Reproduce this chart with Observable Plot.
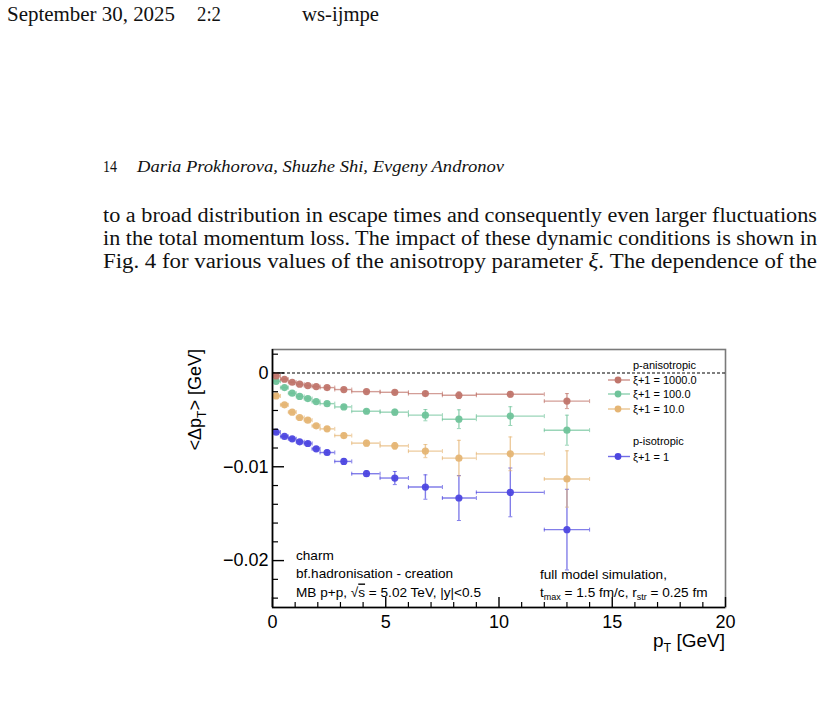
<!DOCTYPE html>
<html><head><meta charset="utf-8">
<script src="https://cdn.jsdelivr.net/npm/d3@7"></script>
<script src="https://cdn.jsdelivr.net/npm/@observablehq/plot@0.6"></script>
<style>
html,body{margin:0;padding:0;background:#fff;}
#page{position:relative;width:825px;height:708px;overflow:hidden;background:#fff;}
#text{position:absolute;left:0;top:0;}
#chart{position:absolute;left:160px;top:330px;}
</style></head><body>
<div id="page"><svg id="text" width="825" height="708"></svg><div id="chart"></div></div>
<script>
// ---- data ----
const ptMean  = [0.16, 0.53, 0.87, 1.20, 1.56, 1.93, 2.41, 3.15, 4.15, 5.40, 6.75, 8.23, 10.50, 13.00];
const binLow  = [0.00, 0.35, 0.70, 1.05, 1.40, 1.75, 2.10, 2.75, 3.50, 4.75, 6.00, 7.50, 9.00, 12.00];
const binHigh = [0.35, 0.70, 1.05, 1.40, 1.75, 2.10, 2.75, 3.50, 4.75, 6.00, 7.50, 9.00, 12.00, 14.00];

const seriesNames = ["ξ+1 = 1000.0", "ξ+1 = 100.0", "ξ+1 = 10.0", "ξ+1 = 1"];
const seriesGroups = ["p-anisotropic", "p-anisotropic", "p-anisotropic", "p-isotropic"];
const seriesColors = ["#c0756b", "#6fc39a", "#e5b574", "#4d47e0"];

const xi1000 = [-0.00032, -0.00067, -0.00099, -0.00120, -0.00135, -0.00145, -0.00156, -0.00177, -0.00199, -0.00206, -0.00220, -0.00238, -0.00227, -0.00300];
const xi100  = [-0.00089, -0.00156, -0.00216, -0.00250, -0.00273, -0.00305, -0.00327, -0.00362, -0.00408, -0.00418, -0.00450, -0.00493, -0.00460, -0.00610];
const xi10   = [-0.00245, -0.00340, -0.00418, -0.00475, -0.00503, -0.00564, -0.00596, -0.00667, -0.00748, -0.00777, -0.00833, -0.00908, -0.00862, -0.01130];
const xi1    = [-0.00631, -0.00677, -0.00702, -0.00734, -0.00752, -0.00809, -0.00848, -0.00943, -0.01074, -0.01120, -0.01216, -0.01333, -0.01273, -0.01670];

const err1000 = [0.00005, 0.00005, 0.00005, 0.00005, 0.00005, 0.00005, 0.00008, 0.00010, 0.00010, 0.00015, 0.00020, 0.00035, 0.00030, 0.00080];
const err100  = [0.00005, 0.00005, 0.00005, 0.00005, 0.00008, 0.00008, 0.00010, 0.00015, 0.00020, 0.00030, 0.00060, 0.00100, 0.00100, 0.00160];
const err10   = [0.00008, 0.00008, 0.00010, 0.00010, 0.00012, 0.00015, 0.00020, 0.00025, 0.00030, 0.00035, 0.00070, 0.00190, 0.00180, 0.00300];
const err1    = [0.00010, 0.00010, 0.00012, 0.00015, 0.00015, 0.00020, 0.00025, 0.00030, 0.00030, 0.00070, 0.00130, 0.00240, 0.00260, 0.00430];

const seriesValues = [xi1000, xi100, xi10, xi1];
const seriesErrors = [err1000, err100, err10, err1];

const xMajor = [0, 5, 10, 15, 20];
const xMinor = [1, 2, 3, 4, 6, 7, 8, 9, 11, 12, 13, 14, 16, 17, 18, 19];
const yMajor = [0, -0.01, -0.02];
const yMinor = [0.002, -0.002, -0.004, -0.006, -0.008, -0.012, -0.014, -0.016, -0.018, -0.022, -0.024];

const xDomain = [0, 20];
const yDomain = [-0.025, 0.0025];

// ---- page text ----
const T = d3.select("#text");
const serif = "'Liberation Serif','DejaVu Serif',serif";
function line(x, y, str, len, size, italic) {
  T.append("text").attr("x", x).attr("y", y).attr("font-family", serif)
    .attr("font-size", size).attr("font-style", italic ? "italic" : null)
    .attr("textLength", len).attr("lengthAdjust", "spacingAndGlyphs").attr("fill", "#111").text(str);
}
line(7, 21, "September 30, 2025", 168, 20);
line(197, 21, "2:2", 24, 20);
line(302, 21, "ws-ijmpe", 77, 20);
line(103, 172, "14", 14, 16);
line(137, 172, "Daria Prokhorova, Shuzhe Shi, Evgeny Andronov", 367, 16, true);
line(103, 222, "to a broad distribution in escape times and consequently even larger fluctuations", 714, 20);
line(103, 245, "in the total momentum loss. The impact of these dynamic conditions is shown in", 714, 20);
{
  const t = T.append("text").attr("x", 103).attr("y", 268).attr("font-family", serif).attr("font-size", 20)
    .attr("textLength", 714).attr("lengthAdjust", "spacingAndGlyphs").attr("fill", "#111");
  t.append("tspan").text("Fig. 4 for various values of the anisotropy parameter ");
  t.append("tspan").attr("font-style", "italic").text("ξ");
  t.append("tspan").text(". The dependence of the");
}

// ---- chart ----
const W = 600, H = 340, mL = 112, mR = 35, mT = 19, mB = 63;
const FW = W - mL - mR, FH = H - mT - mB;
const sans = "'Liberation Sans', Arial, Helvetica, sans-serif";

const vCap = {draw(ctx, size) { const r = Math.sqrt(size / Math.PI); ctx.moveTo(0, -r); ctx.lineTo(0, r); }};
const hCap = {draw(ctx, size) { const r = Math.sqrt(size / Math.PI); ctx.moveTo(-r, 0); ctx.lineTo(r, 0); }};

const rows = seriesNames.map((name, s) => ptMean.map((p, i) => ({
  series: name, pt: p, lo: binLow[i], hi: binHigh[i],
  v: seriesValues[s][i], e: seriesErrors[s][i],
  v1: seriesValues[s][i] - seriesErrors[s][i], v2: seriesValues[s][i] + seriesErrors[s][i]
})));

const dataMarks = [];
for (const s of [3, 2, 1, 0]) {
  const d = rows[s], c = seriesColors[s];
  dataMarks.push(
    Plot.ruleY(d, {x1: "lo", x2: "hi", y: "v", stroke: c, strokeOpacity: 0.7, strokeWidth: 1.4}),
    Plot.ruleX(d, {x: "pt", y1: "v1", y2: "v2", stroke: c, strokeOpacity: 0.7, strokeWidth: 1.4}),
    Plot.dot(d, {x: "lo", y: "v", symbol: vCap, r: 2, stroke: c, strokeOpacity: 0.7, fill: "none", strokeWidth: 1}),
    Plot.dot(d, {x: "hi", y: "v", symbol: vCap, r: 2, stroke: c, strokeOpacity: 0.7, fill: "none", strokeWidth: 1}),
    Plot.dot(d, {x: "pt", y: "v1", symbol: hCap, r: 2, stroke: c, strokeOpacity: 0.7, fill: "none", strokeWidth: 1}),
    Plot.dot(d, {x: "pt", y: "v2", symbol: hCap, r: 2, stroke: c, strokeOpacity: 0.7, fill: "none", strokeWidth: 1}),
    Plot.dot(d, {x: "pt", y: "v", r: 3.6, fill: c, fillOpacity: 0.95, stroke: "none"})
  );
}

const fmtY = d => d === 0 ? "0" : "\u2212" + String(Math.abs(d));

const chart = Plot.plot({
  width: W, height: H,
  marginLeft: mL, marginRight: mR, marginTop: mT, marginBottom: mB,
  style: {fontFamily: sans, background: "white", overflow: "visible"},
  x: {domain: xDomain},
  y: {domain: yDomain},
  marks: [
    Plot.frame({stroke: "#7a7a7a", strokeWidth: 1.6}),
    Plot.ruleY([0], {stroke: "black", strokeWidth: 1.1, strokeDasharray: "3,2"}),
    ...dataMarks,
    Plot.ruleX([xDomain[0]], {stroke: "black", strokeWidth: 1.6}),
    Plot.ruleY([yDomain[0]], {stroke: "black", strokeWidth: 1.6}),
    Plot.ruleY(yMajor, {y: d => d, stroke: "black", strokeWidth: 1.4, insetRight: FW - 12}),
    Plot.ruleY(yMinor, {y: d => d, stroke: "black", strokeWidth: 1.2, insetRight: FW - 6}),
    Plot.ruleX(xMajor, {x: d => d, stroke: "black", strokeWidth: 1.4, insetTop: FH - 10}),
    Plot.ruleX(xMinor, {x: d => d, stroke: "black", strokeWidth: 1.2, insetTop: FH - 5}),
    Plot.axisY({ticks: yMajor, tickSize: 0, tickPadding: 4, tickFormat: fmtY, fontSize: 18, label: null, fill: "black"}),
    Plot.axisX({ticks: xMajor, tickSize: 0, tickPadding: 8, tickFormat: d => String(d), fontSize: 18, label: null, fill: "black"})
  ]
});
document.getElementById("chart").appendChild(chart);

const svg = d3.select(chart);
const g = svg.append("g").attr("font-family", sans).attr("fill", "black").attr("text-anchor", "start");

// axis titles
{
  const xt = g.append("text").attr("x", W - mR).attr("y", 317).attr("text-anchor", "end").attr("font-size", 19);
  xt.append("tspan").text("p");
  xt.append("tspan").attr("dy", 5).attr("font-size", 12.5).text("T");
  xt.append("tspan").attr("dy", -5).text(" [GeV]");
  const yt = g.append("text").attr("transform", `translate(41,${mT}) rotate(-90)`).attr("text-anchor", "end").attr("font-size", 18);
  yt.append("tspan").text("<Δp");
  yt.append("tspan").attr("dy", 5).attr("font-size", 12).text("T");
  yt.append("tspan").attr("dy", -5).text("> [GeV]");
}

// legend
{
  const L = g.append("g").attr("font-size", 11);
  L.append("text").attr("x", 473).attr("y", 39).text(seriesGroups[0]);
  const rowsY = [54, 68, 83, 130.5];
  seriesNames.forEach((n, s) => {
    const y = rowsY[s] - 4;
    L.append("line").attr("x1", 448).attr("x2", 470).attr("y1", y).attr("y2", y)
      .attr("stroke", seriesColors[s]).attr("stroke-width", 1.4).attr("stroke-opacity", 0.8);
    L.append("circle").attr("cx", 458).attr("cy", y).attr("r", 3.4).attr("fill", seriesColors[s]);
    L.append("text").attr("x", 473).attr("y", rowsY[s]).text(n);
  });
  L.append("text").attr("x", 473).attr("y", 114.5).text(seriesGroups[3]);
}

// annotations
{
  const A = g.append("g").attr("font-size", 13.6);
  A.append("text").attr("x", 136).attr("y", 230).text("charm");
  A.append("text").attr("x", 136).attr("y", 247.5).text("bf.hadronisation - creation");
  const m = A.append("text").attr("x", 136).attr("y", 266.5);
  m.append("tspan").text("MB p+p, √");
  m.append("tspan").attr("text-decoration", "overline").text("s");
  m.append("tspan").text(" = 5.02 TeV, |y|<0.5");
  A.append("text").attr("x", 380).attr("y", 248.5).text("full model simulation,");
  const t = A.append("text").attr("x", 380).attr("y", 266.5);
  t.append("tspan").text("t");
  t.append("tspan").attr("dy", 3).attr("font-size", 9).text("max");
  t.append("tspan").attr("dy", -3).text(" = 1.5 fm/c, r");
  t.append("tspan").attr("dy", 3).attr("font-size", 9).text("str");
  t.append("tspan").attr("dy", -3).text(" = 0.25 fm");
}
</script>
</body></html>
